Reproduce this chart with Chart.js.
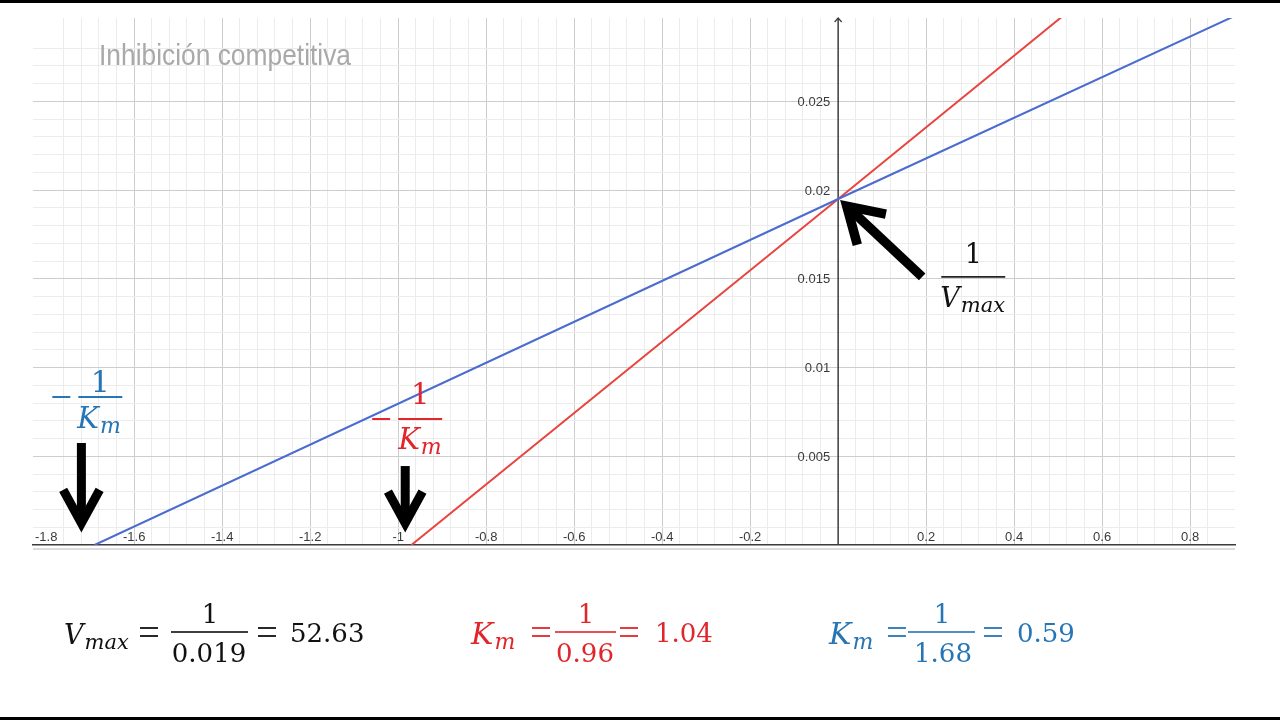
<!DOCTYPE html>
<html>
<head>
<meta charset="utf-8">
<script src="https://cdn.jsdelivr.net/npm/chart.js@4.4.1/dist/chart.umd.min.js"></script>
<style>
  html, body { margin: 0; padding: 0; background: #fff; overflow: hidden; }
  #chart { display: block; }
</style>
</head>
<body>
<canvas id="chart" width="1280" height="720"></canvas>
<script>
// axis ranges
const xMin = -1.83, xMax = 0.902;
const yMin = 0, yMax = 0.0297;

const xTickLabels = ["-1.8", "-1.6", "-1.4", "-1.2", "-1", "-0.8", "-0.6", "-0.4", "-0.2", "0.2", "0.4", "0.6", "0.8"];
const yTickLabels = ["0.005", "0.01", "0.015", "0.02", "0.025"];

// Lineweaver-Burk lines: blue = without inhibitor, red = competitive inhibition
const blueX = [-1.69, 0, 0.9];
const blueY = [0, 0.0195, 0.0298];
const redX = [-0.97, 0, 0.51];
const redY = [0, 0.0195, 0.0298];

const SERIF = "'DejaVu Serif', serif";
const SANS = "'Liberation Sans', Arial, sans-serif";
const RED = "#e0262b";
const BLUE = "#2675b5";
const AXIS = "#3c3c3c";

function isStep(v, step) {
	const r = v / step;
	return Math.abs(r - Math.round(r)) < 1e-6;
}

function gridColor(v, minor, major) {
	if (Math.abs(v) < 1e-9) return "rgba(0,0,0,0)";
	if (isStep(v, major)) return "#cdcdcd";
	if (isStep(v, minor)) return "#ececec";
	return "rgba(0,0,0,0)";
}

function font(size, italic) {
	return (italic ? "italic " : "") + size + "px " + SERIF;
}

// italic variable with subscript, returns end x
function mathVar(ctx, x, y, main, sub, size, subSize, color) {
	ctx.fillStyle = color;
	ctx.textAlign = "left";
	ctx.textBaseline = "alphabetic";
	ctx.font = font(size, true);
	ctx.fillText(main, x, y);
	const w = ctx.measureText(main).width;
	ctx.font = font(subSize, true);
	ctx.fillText(sub, x + w + 1, y + 5);
	return x + w + 1 + ctx.measureText(sub).width;
}

function num(ctx, s, x, y, size, color, align) {
	ctx.fillStyle = color;
	ctx.textAlign = align || "left";
	ctx.textBaseline = "alphabetic";
	ctx.font = font(size, false);
	ctx.fillText(s, x, y);
}

function hbar(ctx, x1, x2, y, w, color) {
	ctx.fillStyle = color;
	ctx.fillRect(x1, y - w / 2, x2 - x1, w);
}

function eq(ctx, x, y, color) {
	hbar(ctx, x, x + 18, y - 4, 1.8, color);
	hbar(ctx, x, x + 18, y + 4, 1.8, color);
}

function arrow(ctx, x1, y1, x2, y2, w, head, ang) {
	const a = Math.atan2(y2 - y1, x2 - x1);
	const back = w / (2 * Math.sin(ang));
	const tx = x2 - Math.cos(a) * back, ty = y2 - Math.sin(a) * back;
	ctx.save();
	ctx.strokeStyle = "#000";
	ctx.lineWidth = w;
	ctx.lineCap = "butt";
	ctx.lineJoin = "miter";
	ctx.beginPath();
	ctx.moveTo(x1, y1);
	ctx.lineTo(tx, ty);
	ctx.stroke();
	ctx.beginPath();
	ctx.moveTo(tx - head * Math.cos(a - ang), ty - head * Math.sin(a - ang));
	ctx.lineTo(tx, ty);
	ctx.lineTo(tx - head * Math.cos(a + ang), ty - head * Math.sin(a + ang));
	ctx.stroke();
	ctx.restore();
}

const overlay = {
	id: "overlay",
	beforeDatasetsDraw(chart) {
		const ctx = chart.ctx;
		const area = chart.chartArea;
		const x0 = chart.scales.x.getPixelForValue(0);
		ctx.save();
		ctx.strokeStyle = AXIS;
		ctx.lineWidth = 1.5;
		ctx.beginPath();
		ctx.moveTo(x0, area.top);
		ctx.lineTo(x0, area.bottom);
		ctx.stroke();
		ctx.lineWidth = 1.2;
		ctx.beginPath();
		ctx.moveTo(x0 - 3.5, area.top + 4);
		ctx.lineTo(x0, area.top);
		ctx.lineTo(x0 + 3.5, area.top + 4);
		ctx.stroke();
		ctx.restore();
	},
	afterDraw(chart) {
		const ctx = chart.ctx;
		const xs = chart.scales.x, ys = chart.scales.y;
		const area = chart.chartArea;
		const x0 = xs.getPixelForValue(0);
		ctx.save();

		// light double line under the x axis
		ctx.fillStyle = "#dcdcdc";
		ctx.fillRect(area.left, area.bottom + 3, area.right - area.left, 2);

		// tick labels
		ctx.font = "13px " + SANS;
		ctx.fillStyle = "#3a3a3a";
		ctx.textAlign = "center";
		ctx.textBaseline = "alphabetic";
		xTickLabels.forEach(t => {
			ctx.fillText(t, xs.getPixelForValue(parseFloat(t)), area.bottom - 4);
		});
		ctx.textAlign = "right";
		ctx.textBaseline = "middle";
		yTickLabels.forEach(t => {
			ctx.fillText(t, x0 - 8, ys.getPixelForValue(parseFloat(t)) + 1);
		});

		// title
		ctx.save();
		ctx.font = "30px " + SANS;
		ctx.fillStyle = "#a9a9a9";
		ctx.textAlign = "left";
		ctx.textBaseline = "alphabetic";
		const tw = ctx.measureText("Inhibición competitiva").width;
		ctx.translate(99, 65);
		ctx.scale(252 / tw, 1);
		ctx.fillText("Inhibición competitiva", 0, 0);
		ctx.restore();

		// arrows pointing at intercepts
		const P = (x, y) => [xs.getPixelForValue(x), ys.getPixelForValue(y)];
		let a = P(-1.72, 0.00575), b = P(-1.72, 0.0007);
		arrow(ctx, a[0], a[1], b[0], b[1], 9, 38, 0.5);
		a = P(-0.984, 0.00445); b = P(-0.984, 0.0007);
		arrow(ctx, a[0], a[1], b[0], b[1], 9, 36, 0.5);
		a = P(0.191, 0.01511); b = P(0.0045, 0.01945);
		arrow(ctx, a[0], a[1], b[0], b[1], 9.5, 40, 0.55);

		// -1/Km (blue)
		let c = P(-1.677, 0.00834);
		hbar(ctx, c[0] - 48, c[0] - 30, c[1], 2, BLUE);
		hbar(ctx, c[0] - 22, c[0] + 22, c[1], 2, BLUE);
		num(ctx, "1", c[0], c[1] - 5, 30, BLUE, "center");
		mathVar(ctx, c[0] - 23, c[1] + 31, "K", "m", 29, 22, BLUE);

		// -1/Km (red)
		c = P(-0.95, 0.0071);
		hbar(ctx, c[0] - 48, c[0] - 30, c[1], 2, RED);
		hbar(ctx, c[0] - 22, c[0] + 22, c[1], 2, RED);
		num(ctx, "1", c[0], c[1] - 15, 29, RED, "center");
		mathVar(ctx, c[0] - 22, c[1] + 30, "K", "m", 29, 22, RED);

		// 1/Vmax
		c = P(0.307, 0.01511);
		hbar(ctx, c[0] - 32, c[0] + 32, c[1], 1.6, "#111");
		num(ctx, "1", c[0], c[1] - 14, 27, "#111", "center");
		mathVar(ctx, c[0] - 33, c[1] + 30, "V", "max", 27, 21, "#111");

		// formulas under the chart
		const base = 642;
		const K = "#111";
		mathVar(ctx, 64, base + 2, "V", "max", 27, 21, K);
		eq(ctx, 140, 632, K);
		hbar(ctx, 171, 248, 632, 1.6, K);
		num(ctx, "1", 210, 623, 26, K, "center");
		num(ctx, "0.019", 209, 662, 26, K, "center");
		eq(ctx, 258, 632, K);
		num(ctx, "52.63", 290, base, 26, K);

		mathVar(ctx, 471, base + 2, "K", "m", 30, 22, RED);
		eq(ctx, 532, 632, RED);
		hbar(ctx, 555, 616, 632, 1.6, RED);
		num(ctx, "1", 586, 623, 26, RED, "center");
		num(ctx, "0.96", 585, 662, 26, RED, "center");
		eq(ctx, 620, 632, RED);
		num(ctx, "1.04", 655, base, 26, RED);

		mathVar(ctx, 829, base + 2, "K", "m", 30, 22, BLUE);
		eq(ctx, 888, 632, BLUE);
		hbar(ctx, 908, 975, 632, 1.6, BLUE);
		num(ctx, "1", 942, 623, 26, BLUE, "center");
		num(ctx, "1.68", 943, 662, 26, BLUE, "center");
		eq(ctx, 984, 632, BLUE);
		num(ctx, "0.59", 1017, base, 26, BLUE);

		// black frame bars
		ctx.fillStyle = "#000";
		ctx.fillRect(0, 0, 1280, 3);
		ctx.fillRect(0, 717, 1280, 3);
		ctx.restore();
	}
};

const ctx = document.getElementById("chart").getContext("2d");
new Chart(ctx, {
	type: "scatter",
	data: {
		datasets: [
			{
				label: "Sin inhibidor",
				data: blueX.map((x, i) => ({ x, y: blueY[i] })),
				borderColor: "#4a6bd0",
				borderWidth: 2,
				showLine: true,
				pointRadius: 0,
				fill: false,
			},
			{
				label: "Inhibición competitiva",
				data: redX.map((x, i) => ({ x, y: redY[i] })),
				borderColor: "#e8453f",
				borderWidth: 2,
				showLine: true,
				pointRadius: 0,
				fill: false,
			},
		],
	},
	options: {
		responsive: false,
		animation: false,
		events: [],
		layout: { padding: { left: 33, right: 45, top: 18, bottom: 175 } },
		plugins: { legend: { display: false }, tooltip: { enabled: false } },
		scales: {
			x: {
				type: "linear",
				min: xMin,
				max: xMax,
				ticks: { display: false, stepSize: 0.04 },
				grid: {
					drawTicks: false,
					color: c => gridColor(c.tick.value, 0.04, 0.2),
				},
				border: { display: true, color: AXIS, width: 1.5 },
			},
			y: {
				type: "linear",
				min: yMin,
				max: yMax,
				ticks: { display: false, stepSize: 0.001 },
				grid: {
					drawTicks: false,
					color: c => gridColor(c.tick.value, 0.001, 0.005),
				},
				border: { display: false },
			},
		},
	},
	plugins: [overlay],
});
</script>
</body>
</html>
